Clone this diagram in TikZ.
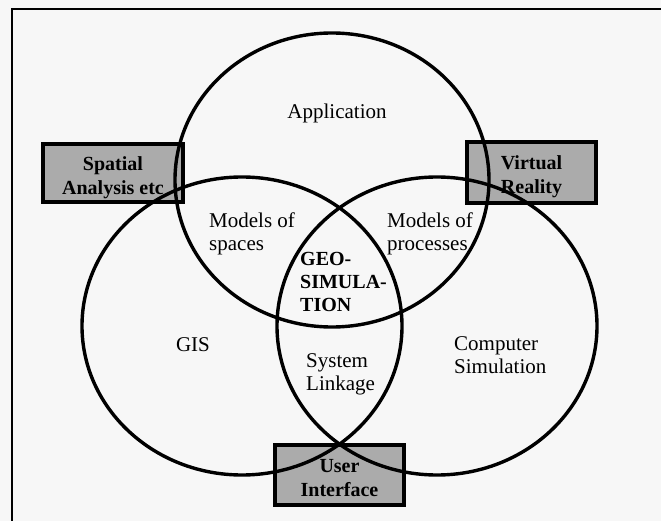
\documentclass[tikz,border=0pt]{standalone}
\usepackage{fontspec}
\setmainfont{Liberation Serif}
\usetikzlibrary{shapes.geometric}
\definecolor{bggrey}{HTML}{F7F7F7}
\definecolor{boxgrey}{HTML}{ABABAB}
\begin{document}
\begin{tikzpicture}[x=1pt,y=-1pt]
\tikzset{
 ring/.style={ellipse, draw=black, line width=3.4pt, inner sep=0pt, outer sep=0pt},
 greybox/.style={rectangle, draw=black, line width=4pt, fill=boxgrey, inner sep=0pt},
 lbl/.style={font=\fontsize{21}{23}\selectfont, align=left, inner sep=0pt},
 blbl/.style={font=\bfseries\fontsize{20}{24}\selectfont, align=center, inner sep=0pt},
 frameline/.style={draw=black, line width=1.8pt},
}
\fill[bggrey] (0,0) rectangle (661,521);
\useasboundingbox (0,0) rectangle (661,521);
\coordinate (fbl) at (12,521);
\coordinate (ftl) at (12,9);
\coordinate (ftr) at (661,9);
\draw[frameline] (fbl) -- (ftl) -- (ftr);
% boxes
\node[greybox, minimum width=140pt, minimum height=58pt] (sa) at (113,173) {};
\node[greybox, minimum width=129pt, minimum height=61pt] (vr) at (531.5,172.5) {};
\node[greybox, minimum width=129pt, minimum height=60pt] (ui) at (339.5,475) {};
% rings
\node[ring, minimum width=320pt, minimum height=298pt] (gis) at (242,326) {};
\node[ring, minimum width=320pt, minimum height=298pt] (cs) at (437,326) {};
\node[ring, minimum width=314pt, minimum height=294pt] (app) at (332,180) {};
% labels
\node[lbl] (tapp) at (337,113) {Application};
\node[lbl, anchor=west] (tms) at (209,234) {Models of\\spaces};
\node[lbl, anchor=west] (tmp) at (387,234) {Models of\\processes};
\node[lbl, anchor=west, font=\bfseries\fontsize{20}{23}\selectfont] (tgeo) at (300,282) {GEO-\\SIMULA-\\TION};
\node[lbl] (tgis) at (193,345) {GIS};
\node[lbl, anchor=west] (tsl) at (306,374) {System\\Linkage};
\node[lbl, anchor=west] (tcs) at (454,355) {Computer\\Simulation};
\node[blbl, yshift=-5pt] (tsa) at (sa) {Spatial\\Analysis etc};
\node[blbl, yshift=-4pt] (tvr) at (vr) {Virtual\\Reality};
\node[blbl, yshift=-3pt] (tui) at (ui) {User\\Interface};
\end{tikzpicture}
\end{document}
